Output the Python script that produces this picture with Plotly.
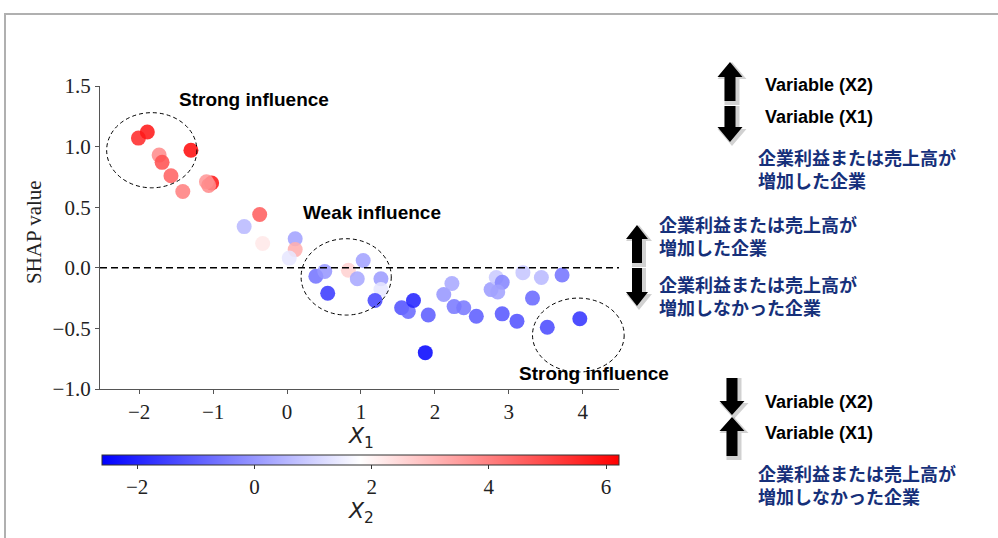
import plotly.graph_objects as go

# ---------------- data ----------------
x1_vals = [-2.01, -1.89, -1.73, -1.69, -1.30, -1.57, -1.41, -1.02, -1.09, -1.06,
           -0.37, -0.58, -0.33, 0.11, 0.11, 0.03,
           0.39, 0.51, 0.55, 0.83, 0.95, 1.03, 1.27, 1.27, 1.19,
           1.55, 1.64, 1.71, 1.91, 1.87, 2.12, 2.23, 2.26, 2.39, 2.56,
           2.76, 2.83, 2.91, 2.85, 2.91, 3.11, 3.19, 3.44, 3.72, 3.32, 3.52, 3.96]
shap_vals = [1.07, 1.12, 0.93, 0.87, 0.97, 0.76, 0.63, 0.70, 0.71, 0.68,
             0.44, 0.34, 0.20, 0.24, 0.15, 0.08,
             -0.07, -0.03, -0.21, -0.02, -0.09, 0.06, -0.09, -0.18, -0.27,
             -0.33, -0.36, -0.27, -0.39, -0.70, -0.22, -0.13, -0.32, -0.33, -0.40,
             -0.18, -0.08, -0.12, -0.20, -0.38, -0.44, -0.04, -0.08, -0.06, -0.25, -0.49, -0.42]
x2_vals = [5.5, 5.8, 3.8, 4.8, 6.0, 4.5, 4.0, 5.8, 3.6, 3.8,
           4.6, 0.6, 2.2, 0.2, 3.2, 1.4,
           -0.6, 0.0, -1.6, 2.6, 0.3, 0.2, 0.1, 1.4, -1.4,
           -1.2, -0.8, -2.0, -1.0, -2.5, 0.0, 0.3, -0.5, -0.5, -1.0,
           0.1, 0.9, -0.3, 0.2, -1.1, -1.2, 0.8, 0.6, -0.6, -0.8, -1.3, -1.7]

x_range = [-2.53, 4.49]
y_range = [-1.0, 1.5]
c_range = [-2.6, 6.22]
y_ticks = [-1.0, -0.5, 0.0, 0.5, 1.0, 1.5]
x_ticks = [-2, -1, 0, 1, 2, 3, 4]
c_ticks = [-2, 0, 2, 4, 6]

# ellipses: (x0, x1, y0, y1) in data units
ellipses = [(-2.44, -1.22, 0.66, 1.28), (0.19, 1.41, -0.39, 0.24), (3.32, 4.56, -0.86, -0.25)]
influence_labels = [("Strong influence", -0.45, 1.39), ("Weak influence", 1.15, 0.46),
                    ("Strong influence", 4.15, -0.87)]

# ---------------- layout geometry (pixels) ----------------
W, H = 998, 538
PL, PR, PT, PB = 100, 619, 86, 389


def px(x):
    return (x - PL) / (PR - PL)


def py(y):
    return (PB - y) / (PB - PT)


def dx(v):
    return (v - x_range[0]) / (x_range[1] - x_range[0])


def dy(v):
    return (v - y_range[0]) / (y_range[1] - y_range[0])


bwr = [[0, "rgb(0,0,255)"], [0.5, "rgb(255,255,255)"], [1, "rgb(255,0,0)"]]
serif = "Liberation Serif"
jp = "Noto Sans CJK JP"
navy = "#16307a"

fig = go.Figure()
fig.add_trace(go.Scatter(
    x=x1_vals, y=shap_vals, mode="markers",
    marker=dict(size=15, color=x2_vals, colorscale=bwr, cmin=c_range[0], cmax=c_range[1],
                opacity=0.87, line=dict(width=0),
                colorbar=dict(orientation="h", x=px(360.5), xanchor="center",
                              y=py(455), yanchor="top", len=517, lenmode="pixels",
                              thickness=10, thicknessmode="pixels",
                              outlinewidth=1, outlinecolor="#333",
                              tickvals=c_ticks, ticks="outside", ticklen=4, tickcolor="#333",
                              tickfont=dict(family=serif, size=21, color="#222"),
                              xpad=0, ypad=0)),
    showlegend=False, hoverinfo="skip"))

shapes = []
# frame
shapes.append(dict(type="rect", xref="paper", yref="paper", x0=px(5), x1=px(1010),
                   y0=py(14), y1=py(560), line=dict(color="#b0b0b0", width=2)))
# zero dashed line
shapes.append(dict(type="line", xref="paper", yref="paper", x0=0, x1=1, y0=dy(0), y1=dy(0),
                   line=dict(color="black", width=1.6, dash="7px,4px")))
for (a, b, c, d) in ellipses:
    shapes.append(dict(type="circle", xref="paper", yref="paper", x0=dx(a), x1=dx(b),
                       y0=dy(c), y1=dy(d), line=dict(color="black", width=1, dash="4px,3px")))


def arrow(cx, tip, base, end, hw=25, sw=11, color="black", grow=0, shift=0):
    s = 1 if end > tip else -1
    tip2, end2 = tip - s * grow, end + s * grow
    hw2, sw2 = hw + 2 * grow, sw + 2 * grow
    cx2 = cx + shift
    tip2 += shift
    base2 = base + shift
    end2 += shift
    pts = [(cx2, tip2), (cx2 + hw2 / 2, base2), (cx2 + sw2 / 2, base2), (cx2 + sw2 / 2, end2),
           (cx2 - sw2 / 2, end2), (cx2 - sw2 / 2, base2), (cx2 - hw2 / 2, base2)]
    path = "M " + " L ".join(f"{px(p[0]):.5f},{py(p[1]):.5f}" for p in pts) + " Z"
    return dict(type="path", xref="paper", yref="paper", path=path,
                fillcolor=color, line=dict(width=0))


arrow_specs = [
    (730, 62, 77, 101, 25, 11), (730, 142, 127, 106, 25, 11),      # group 1
    (637, 225, 239, 263, 22, 10), (637, 306, 292, 268, 22, 10),    # group 2
    (732, 415, 401, 378, 25, 11), (732, 417, 431, 456, 25, 11),    # group 3
]
for spec in arrow_specs:  # soft shadows
    shapes.append(arrow(*spec, color="rgba(0,0,0,0.18)", grow=2, shift=2))
for spec in arrow_specs:
    shapes.append(arrow(*spec))

annotations = []


def txt(text, x, y, size, color="black", family="Liberation Sans", xanchor="left", bold=True, angle=0):
    t = f"<b>{text}</b>" if bold else text
    annotations.append(dict(text=t, xref="paper", yref="paper", x=px(x), y=py(y),
                            xanchor=xanchor, yanchor="middle", showarrow=False,
                            textangle=angle, align="left",
                            font=dict(family=family, size=size, color=color)))


for (t, xv, yv) in influence_labels:
    annotations.append(dict(text=f"<b>{t}</b>", xref="paper", yref="paper", x=dx(xv), y=dy(yv),
                            xanchor="center", yanchor="middle", showarrow=False,
                            font=dict(family="Liberation Sans", size=19, color="black")))

# axis titles
txt("SHAP value", 34, 232, 21, color="#222", family=serif, xanchor="center", bold=False, angle=-90)
txt("<i>X</i><sub>1</sub>", 361, 437, 22, color="#222", family="DejaVu Sans", xanchor="center", bold=False)
txt("<i>X</i><sub>2</sub>", 361, 512, 22, color="#222", family="DejaVu Sans", xanchor="center", bold=False)

# right side notes
txt("Variable (X2)", 763, 85, 18)
txt("Variable (X1)", 763, 117, 18)
txt("企業利益または売上高が<br>増加した企業", 756, 168, 18, color=navy, family=jp)

txt("企業利益または売上高が<br>増加した企業", 657, 235, 18, color=navy, family=jp)
txt("企業利益または売上高が<br>増加しなかった企業", 657, 295, 18, color=navy, family=jp)

txt("Variable (X2)", 763, 402, 18)
txt("Variable (X1)", 763, 433, 18)
txt("企業利益または売上高が<br>増加しなかった企業", 756, 484, 18, color=navy, family=jp)

axis_common = dict(showgrid=False, zeroline=False, showline=True, linecolor="#555", linewidth=1.3,
                   ticks="outside", ticklen=4, tickcolor="#555",
                   tickfont=dict(family=serif, size=21, color="#222"))

fig.update_layout(
    width=W, height=H,
    margin=dict(l=PL, r=W - PR, t=PT, b=H - PB, autoexpand=False),
    paper_bgcolor="white", plot_bgcolor="white",
    xaxis=dict(range=x_range, tickvals=x_ticks, **axis_common),
    yaxis=dict(range=y_range, tickvals=y_ticks, tickformat=".1f", **axis_common),
    shapes=shapes, annotations=annotations,
)

fig.write_html("out.html", config={"displayModeBar": False},
               post_script="document.body.style.margin='0px';document.body.style.overflow='hidden';")
